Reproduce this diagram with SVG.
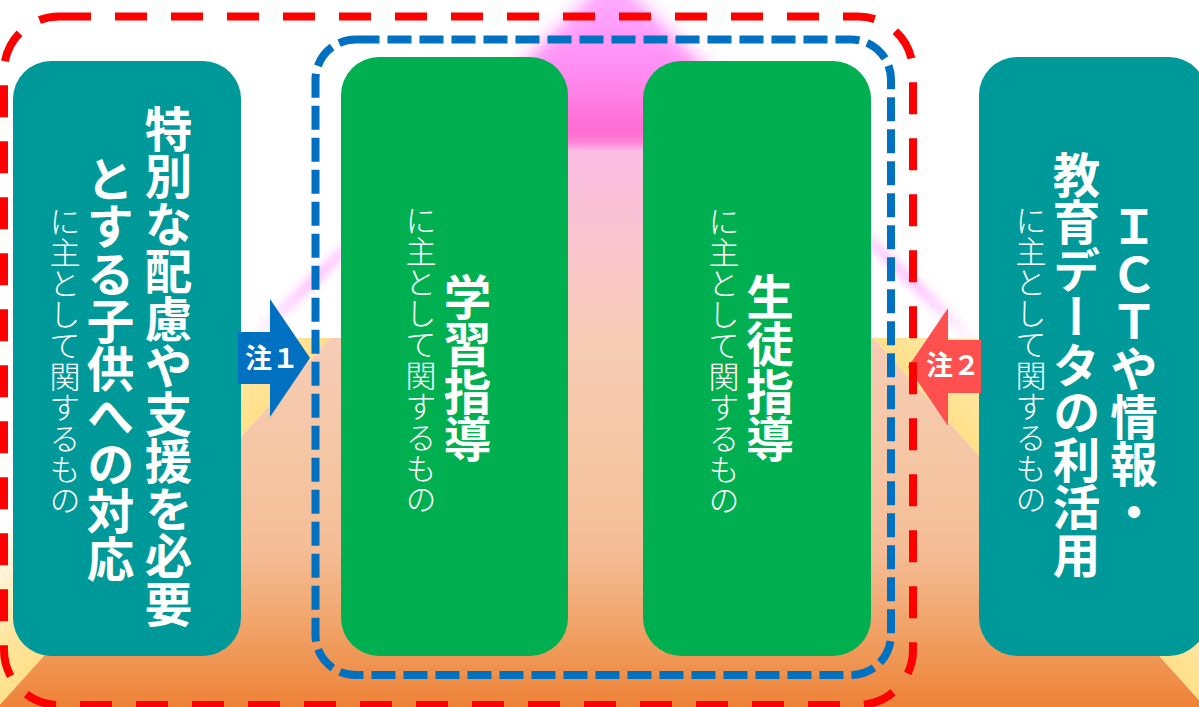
<svg xmlns="http://www.w3.org/2000/svg" width="1199" height="707" viewBox="0 0 1199 707">
  <defs>
    <style>
      .teal { fill: #009999; }
      .green { fill: #00b050; }
      .big { font-family: "Noto Sans CJK JP", "Noto Sans", sans-serif; font-weight: 700; font-size: 47.5px; fill: #ffffff; writing-mode: vertical-rl; }
      .small { font-family: "Noto Sans CJK JP", "Noto Sans", sans-serif; font-weight: 300; font-size: 31px; fill: #ffffff; writing-mode: vertical-rl; }
      .note { font-family: "Noto Sans CJK JP", "Noto Sans", sans-serif; font-weight: 700; font-size: 27px; fill: #ffffff; text-anchor: middle; }
      .frame { fill: none; stroke-width: 8; }
    </style>
    <linearGradient id="bodyGrad" gradientUnits="userSpaceOnUse" x1="0" y1="150" x2="0" y2="707">
      <stop offset="0" stop-color="#fbbde4"/>
      <stop offset="0.34" stop-color="#f7ccb6"/>
      <stop offset="0.55" stop-color="#f5c6a4"/>
      <stop offset="0.72" stop-color="#f4bd96"/>
      <stop offset="0.86" stop-color="#f1a267"/>
      <stop offset="1" stop-color="#ee8236"/>
    </linearGradient>
    <linearGradient id="capGrad" gradientUnits="userSpaceOnUse" x1="0" y1="0" x2="0" y2="150">
      <stop offset="0" stop-color="#ffa6ff"/>
      <stop offset="0.45" stop-color="#ff8ef4"/>
      <stop offset="1" stop-color="#ff60c6"/>
    </linearGradient>
    <linearGradient id="sideL" gradientUnits="userSpaceOnUse" x1="330" y1="338" x2="241" y2="258">
      <stop offset="0" stop-color="#ffe08a"/>
      <stop offset="0.35" stop-color="#ffe6a0"/>
      <stop offset="1" stop-color="#ffffff"/>
    </linearGradient>
    <linearGradient id="sideR" gradientUnits="userSpaceOnUse" x1="873" y1="338" x2="962" y2="258">
      <stop offset="0" stop-color="#ffe08a"/>
      <stop offset="0.35" stop-color="#ffe6a0"/>
      <stop offset="1" stop-color="#ffffff"/>
    </linearGradient>
    <linearGradient id="rayGrad" gradientUnits="userSpaceOnUse" x1="0" y1="0" x2="0" y2="345">
      <stop offset="0" stop-color="#ff80ff" stop-opacity="0.5"/>
      <stop offset="0.6" stop-color="#ff80ff" stop-opacity="0.25"/>
      <stop offset="0.82" stop-color="#ff80ff" stop-opacity="0.6"/>
      <stop offset="0.93" stop-color="#ff80ff" stop-opacity="0.25"/>
      <stop offset="1" stop-color="#ff80ff" stop-opacity="0"/>
    </linearGradient>
    <filter id="blurCap" x="-50%" y="-50%" width="200%" height="200%">
      <feGaussianBlur stdDeviation="10"/>
    </filter>
    <filter id="blurRay" x="-50%" y="-50%" width="200%" height="200%">
      <feGaussianBlur stdDeviation="5"/>
    </filter>
  </defs>

  <rect x="0" y="0" width="1199" height="707" fill="#ffffff"/>

  <g id="background">
    <path d="M612,-10 L250,342 M612,-10 L974,342" fill="none" stroke="url(#rayGrad)" stroke-width="9" filter="url(#blurRay)"/>
    <polygon points="330,338 100,338 -300,707 -2,707" fill="url(#sideL)"/>
    <polygon points="873,338 1100,338 1500,707 1205,707" fill="url(#sideR)"/>
    <polygon points="612,-25 440,150 785,150" fill="url(#capGrad)" filter="url(#blurCap)"/>
    <polygon points="540,150 680,150 680,338 873,338 1205,707 -2,707 330,338 540,338" fill="url(#bodyGrad)"/>
  </g>

  <g id="node-special-needs">
    <rect class="teal" x="13" y="61" width="228" height="595" rx="38"/>
    <text class="big" x="168.5" y="105">特別な配慮や支援を必要</text>
    <text class="big" x="110.5" y="155">とする子供への対応</text>
    <text class="small" x="65" y="206">に主として関するもの</text>
  </g>

  <g id="node-learning">
    <rect class="green" x="341" y="57" width="227" height="599" rx="38"/>
    <text class="big" x="467.5" y="273">学習指導</text>
    <text class="small" x="421" y="205">に主として関するもの</text>
  </g>

  <g id="node-student">
    <rect class="green" x="643" y="61" width="228" height="595" rx="38"/>
    <text class="big" x="770" y="273">生徒指導</text>
    <text class="small" x="724" y="206">に主として関するもの</text>
  </g>

  <g id="node-ict">
    <rect class="teal" x="979" y="57" width="228" height="599" rx="38"/>
    <text class="big" x="1134" y="203">ＩＣＴや情報・</text>
    <text class="big" x="1076.5" y="151">教育データの利活用</text>
    <text class="small" x="1031" y="205">に主として関するもの</text>
  </g>

  <g id="connectors">
    <g id="note1">
      <polygon points="238,332 270,332 270,299 310,358 270,417 270,384 238,384" fill="#0070c0"/>
      <text class="note" x="272" y="368">注１</text>
    </g>
    <g id="note2">
      <polygon points="981,340 948,340 948,308 908,367 948,426 948,393 981,393" fill="#ff5050"/>
      <text class="note" x="953" y="375">注２</text>
    </g>
  </g>

  <g id="frames">
    <rect class="frame" x="4" y="16.5" width="909" height="688.5" rx="55" stroke="#ff0000" stroke-dasharray="32 24"/>
    <rect class="frame" x="315.5" y="39.5" width="575.5" height="635.5" rx="40" stroke="#0070c0" stroke-dasharray="24 8"/>
  </g>
</svg>
